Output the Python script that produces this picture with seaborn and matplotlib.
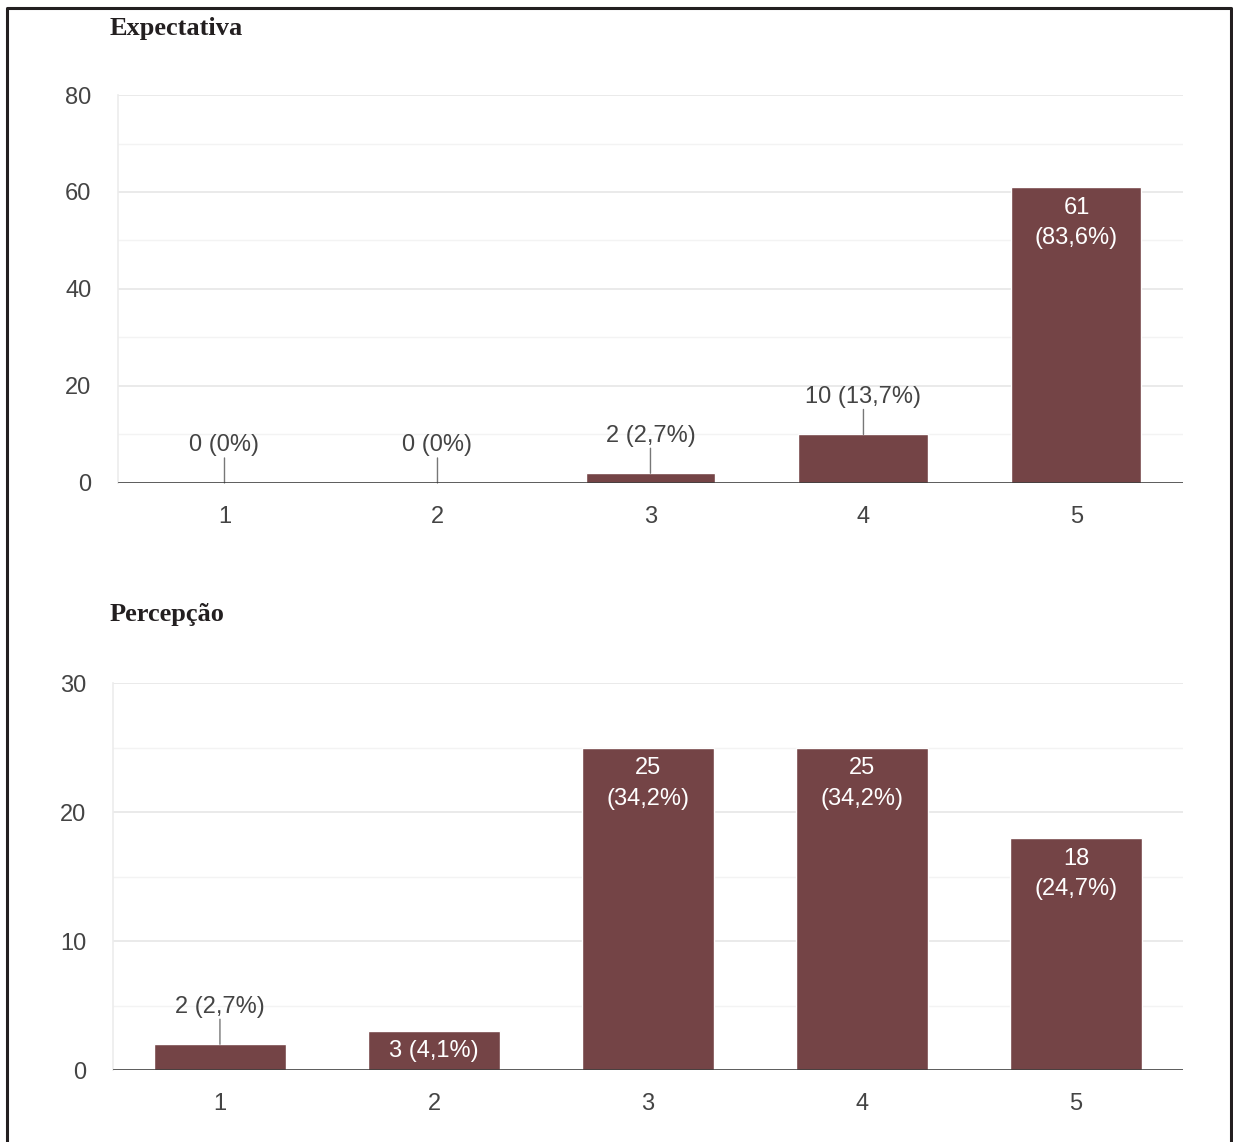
import numpy as np
import pandas as pd
import seaborn as sns
import matplotlib.pyplot as plt
from matplotlib import ticker
from matplotlib.lines import Line2D

# scale answers
cats = ['1', '2', '3', '4', '5']

exp_counts = [0, 0, 2, 10, 61]
exp_pct = ['0%', '0%', '2,7%', '13,7%', '83,6%']

per_counts = [2, 3, 25, 25, 18]
per_pct = ['2,7%', '4,1%', '34,2%', '34,2%', '24,7%']

bar_color = '#744446'
text_grey = '#444444'
fs = 17


def label_bars(ax, counts, pct, ymax):
  for i, (c, p) in enumerate(zip(counts, pct)):
    share = c / ymax
    one = f'{c} ({p})'
    if share >= 0.3:
      ax.annotate(f'{c}\n({p})', (i, c), xytext=(0, -7), textcoords='offset points',
                  ha='center', va='top', color='white', fontsize=fs, linespacing=1.5,
                  family='Liberation Sans')
    elif share >= 0.09 and len(one) <= 8:
      ax.annotate(one, (i, c), xytext=(0, -14.5), textcoords='offset points',
                  ha='center', va='center', color='white', fontsize=fs,
                  family='Liberation Sans')
    else:
      ax.annotate(one, (i, c), xytext=(0, 27), textcoords='offset points',
                  ha='center', va='center', color=text_grey, fontsize=fs,
                  family='Liberation Sans')
      # leader line from bar top to the label
      ax.annotate('', xy=(i, c), xytext=(0, 18), textcoords='offset points',
                  arrowprops=dict(arrowstyle='-', color='#777777', lw=1,
                                  shrinkA=0, shrinkB=0))


def panel(ax, counts, pct, ymax, step, width):
  df = pd.DataFrame({'nota': cats, 'n': counts})
  sns.barplot(data=df, x='nota', y='n', order=cats, color=bar_color,
              saturation=1, width=width, ax=ax, zorder=3)
  ax.set_xlim(-0.5, 4.5)
  ax.set_ylim(0, ymax)
  ax.yaxis.set_major_locator(ticker.MultipleLocator(step))
  ax.yaxis.set_minor_locator(ticker.MultipleLocator(step / 2))
  ax.grid(axis='y', which='major', color='#e6e6e6', lw=1.2, zorder=0)
  ax.grid(axis='y', which='minor', color='#f3f3f3', lw=1.0, zorder=0)
  ax.grid(axis='x', visible=False)
  ax.axhline(0, color='#333333', lw=1.8, zorder=4)
  ax.set_xlabel(None)
  ax.set_ylabel(None)
  ax.tick_params(axis='both', length=0, labelsize=fs, labelcolor=text_grey)
  ax.tick_params(axis='y', pad=19)
  ax.tick_params(axis='x', pad=16.5)
  for lab in ax.get_xticklabels() + ax.get_yticklabels():
    lab.set_family('Liberation Sans')
  for s in ['top', 'right', 'bottom']:
    ax.spines[s].set_visible(False)
  ax.spines['left'].set_color('#ececec')
  ax.spines['left'].set_linewidth(1.2)
  label_bars(ax, counts, pct, ymax)


sns.set_style('white')
fig = plt.figure(figsize=(12.33, 11.42), dpi=100)

ax1 = fig.add_axes([0.0957, 0.5771, 0.8637, 0.3397])
panel(ax1, exp_counts, exp_pct, 80, 20, 0.61)

ax2 = fig.add_axes([0.0916, 0.0630, 0.8678, 0.3389])
panel(ax2, per_counts, per_pct, 30, 10, 0.62)

fig.text(110 / 1233, 1 - 28 / 1142, 'Expectativa', ha='left', va='center',
         fontsize=19, fontweight='bold', family='Liberation Serif', color='#231f20')
fig.text(110 / 1233, 1 - 615 / 1142, 'Percepção', ha='left', va='center',
         fontsize=19, fontweight='bold', family='Liberation Serif', color='#231f20')

# frame around the figure (bottom edge is cut off in the original)
bx0, bx1, by1 = 7 / 1233, 1231 / 1233, 1 - 8 / 1142
fig.add_artist(Line2D([bx0, bx0, bx1, bx1], [0, by1, by1, 0],
                      transform=fig.transFigure, color='#231f20', lw=2.2))

plt.savefig('out.png', dpi=100)
